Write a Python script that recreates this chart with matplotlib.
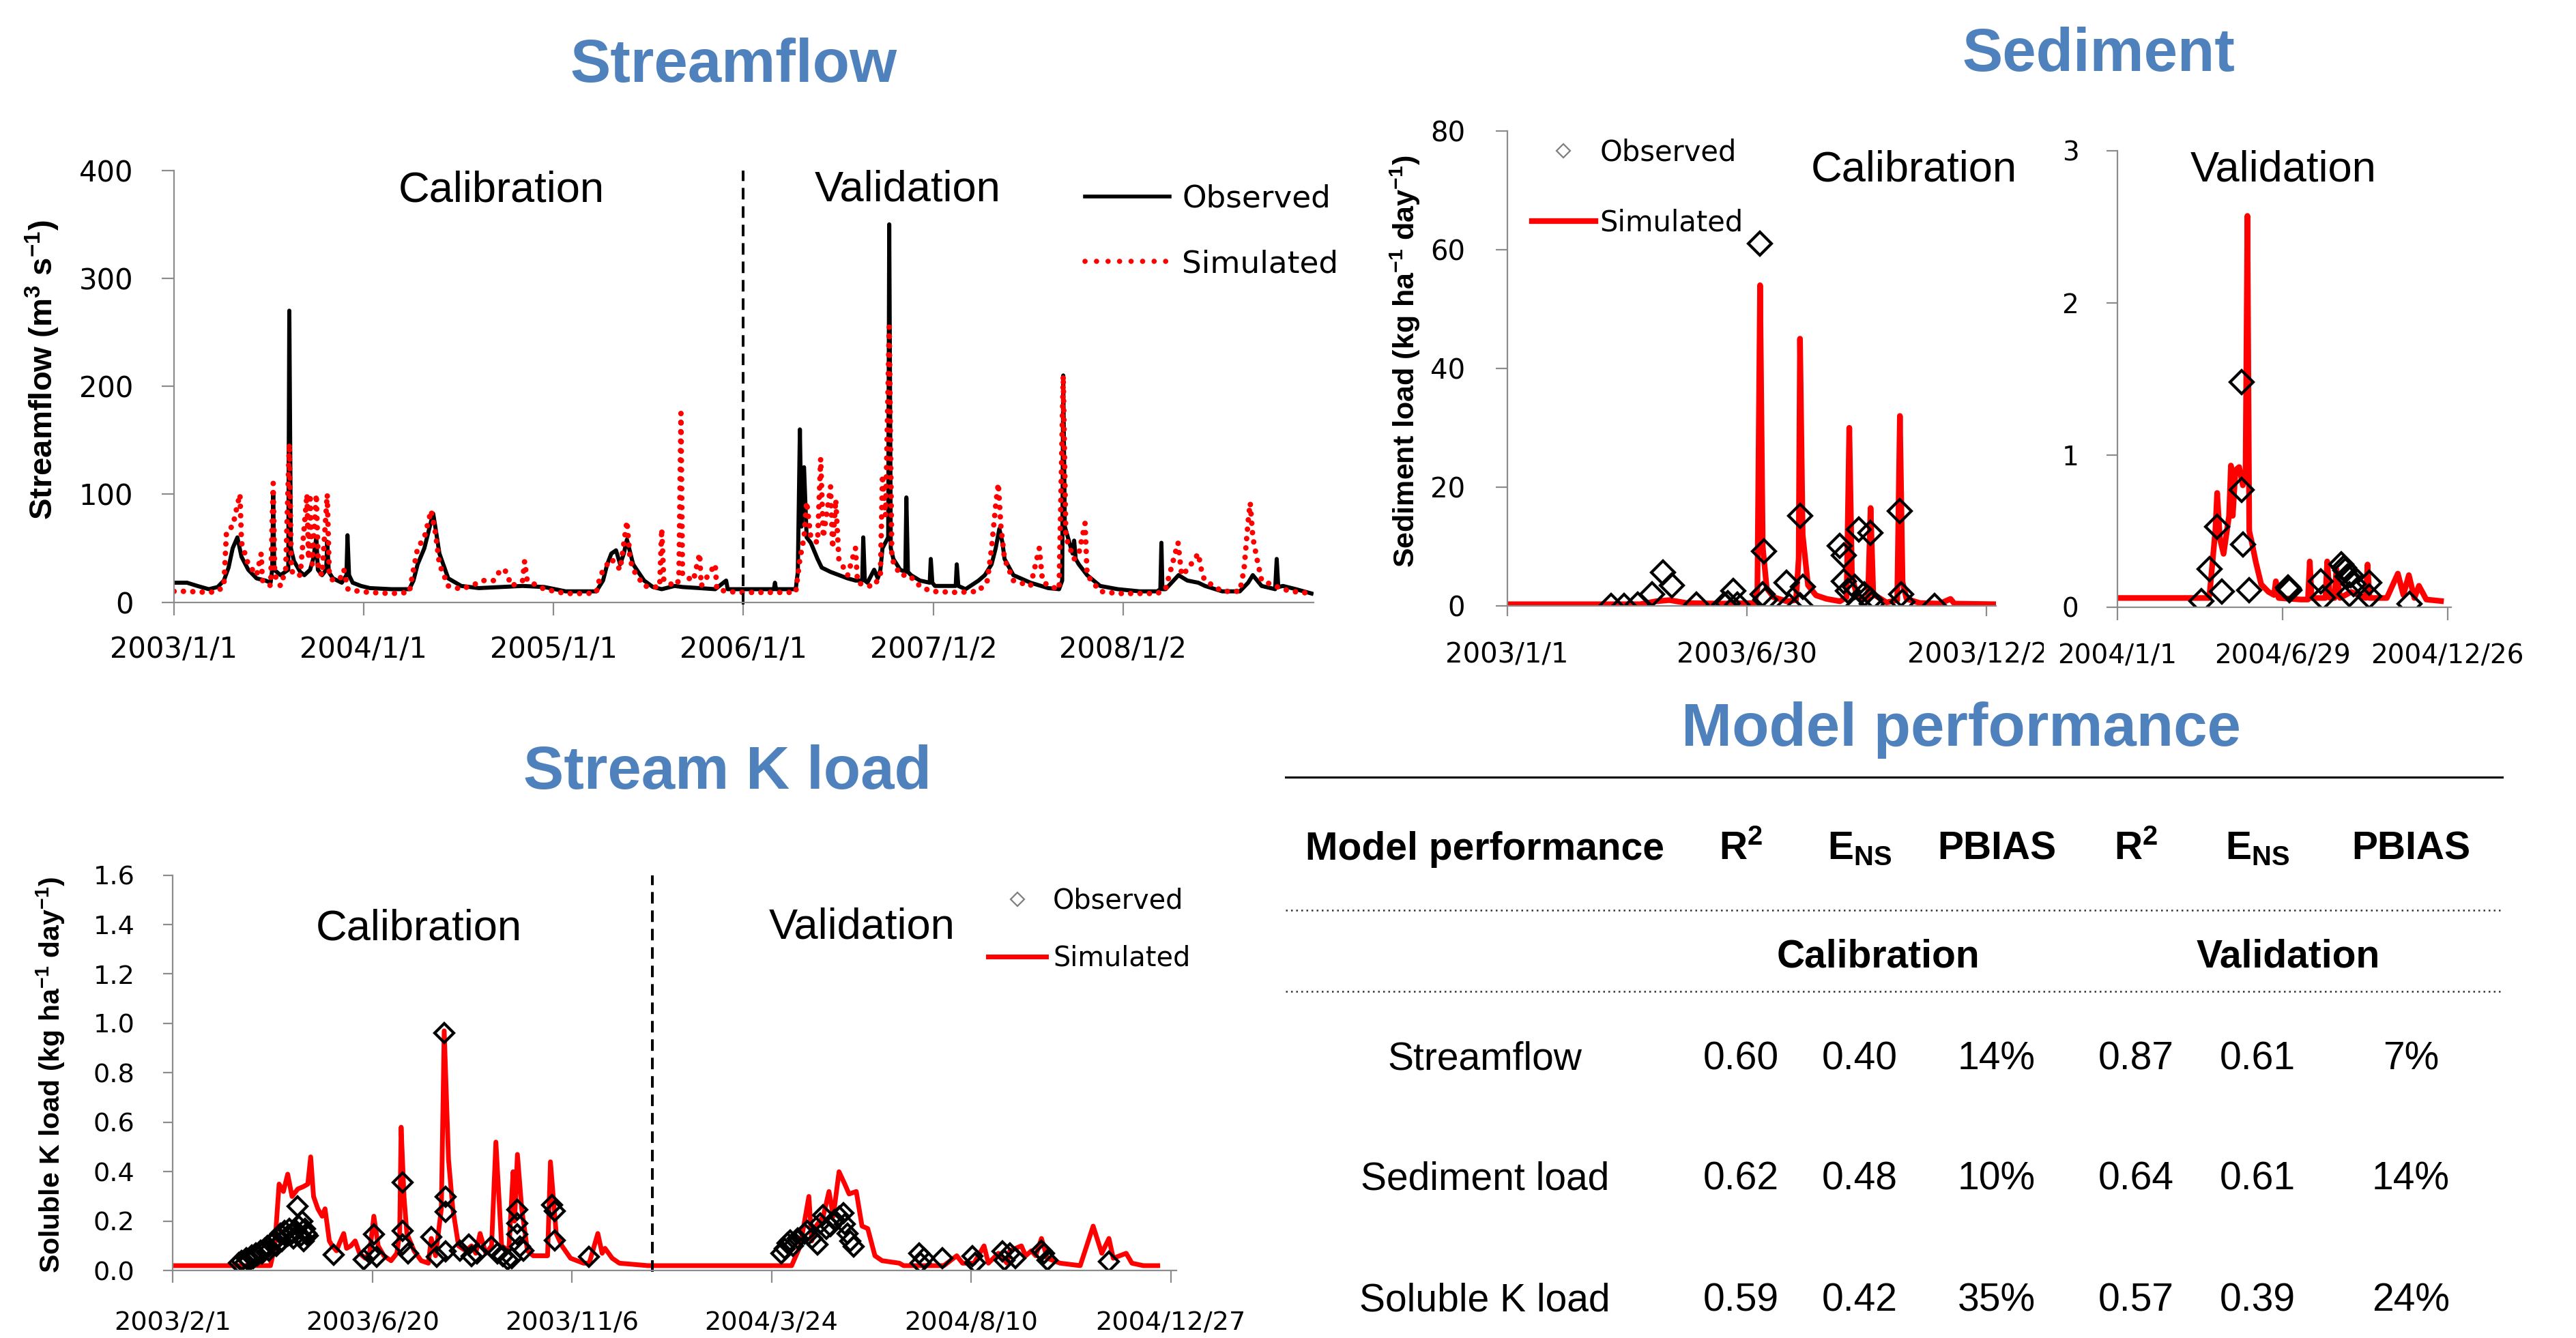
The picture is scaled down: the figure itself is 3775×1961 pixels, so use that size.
import matplotlib
matplotlib.use("Agg")
import matplotlib.pyplot as plt
import numpy as np
from matplotlib.lines import Line2D
from matplotlib.transforms import Bbox, TransformedBbox

W, H = 3775, 1961
TITLE_BLUE = "#4F81BD"
AXIS_GRAY = "#8C8C8C"
ARIAL = "Liberation Sans"

plt.rcParams["font.family"] = "DejaVu Sans"
plt.rcParams["mathtext.fontset"] = "custom"
plt.rcParams["mathtext.rm"] = "Liberation Sans"
plt.rcParams["mathtext.bf"] = "Liberation Sans:bold"
plt.rcParams["mathtext.it"] = "Liberation Sans:italic"

# ---------------- streamflow (days since 2003-01-01, m3/s) ----------------
FLOW_START = "2003-01-01"
FLOW_SPLIT = "2006-01-01"
FLOW_TICK_DATES = ["2003-01-01", "2004-01-01", "2005-01-01", "2006-01-01", "2007-01-02", "2008-01-02"]
FLOW_TICK_LABELS = ["2003/1/1", "2004/1/1", "2005/1/1", "2006/1/1", "2007/1/2", "2008/1/2"]

FLOW_OBS_DAY = [0, 25, 45, 67, 84, 96, 105, 113, 122, 130, 143, 159, 176, 186, 189, 191, 193, 205, 220,
                222, 225, 231, 243, 251, 262, 268, 274, 277, 285, 293, 295, 298, 306, 323, 332, 334, 337,
                344, 360, 377, 419, 453, 461, 469, 482, 495, 499, 503, 511, 528, 553, 587, 629, 671, 713,
                754, 796, 813, 826, 834, 842, 851, 859, 866, 872, 884, 905, 922, 939, 964, 979, 1012, 1042,
                1063, 1066, 1095, 1155, 1157, 1159, 1197, 1201, 1205, 1208, 1213, 1218, 1226, 1239, 1247,
                1264, 1297, 1312, 1325, 1327, 1330, 1335, 1348, 1355, 1360, 1364, 1375, 1377, 1380, 1385,
                1398, 1408, 1410, 1413, 1419, 1436, 1455, 1457, 1460, 1465, 1505, 1507, 1510, 1524, 1549,
                1561, 1574, 1582, 1589, 1595, 1599, 1616, 1649, 1683, 1704, 1710, 1712, 1715, 1721, 1730,
                1733, 1736, 1742, 1758, 1783, 1817, 1859, 1893, 1899, 1901, 1903, 1909, 1934, 1951, 1972,
                1985, 2018, 2052, 2068, 2077, 2094, 2120, 2123, 2126, 2135, 2160, 2190]
FLOW_OBS = [18, 18, 15, 12, 14, 20, 32, 50, 60, 42, 30, 22, 20, 18, 30, 100, 30, 25, 30,
            270, 50, 38, 28, 25, 30, 40, 60, 30, 25, 30, 56, 28, 22, 18, 25, 62, 25,
            18, 15, 13, 12, 12, 20, 35, 50, 75, 82, 70, 45, 22, 15, 13, 14, 15, 14,
            10, 10, 10, 20, 35, 45, 48, 35, 45, 58, 35, 20, 14, 12, 15, 14, 13, 12,
            20, 12, 12, 12, 18, 12, 12, 28, 160, 70, 125, 60, 55, 40, 32,
            28, 22, 20, 20, 60, 20, 18, 30, 22, 30, 50, 60, 350, 50, 40,
            30, 28, 97, 28, 25, 20, 18, 40, 18, 15, 15, 35, 15, 12, 20,
            25, 35, 50, 68, 55, 40, 25, 18, 13, 12, 20, 210, 70, 60, 45,
            57, 40, 35, 25, 15, 12, 10, 10, 12, 55, 12, 12, 25, 20, 18,
            15, 10, 10, 18, 25, 15, 12, 40, 14, 15, 12, 8]

FLOW_SIM_DAY = [0, 25, 67, 84, 96, 101, 105, 113, 122, 127, 130, 143, 159, 168, 170, 176, 186, 191, 194,
                205, 215, 222, 226, 231, 243, 256, 259, 262, 266, 274, 278, 285, 295, 299, 306, 320, 327,
                335, 356, 377, 419, 453, 461, 469, 482, 495, 503, 511, 528, 553, 587, 595, 615, 629, 637,
                650, 671, 675, 680, 713, 754, 796, 813, 821, 834, 842, 851, 859, 872, 878, 884, 905, 922,
                935, 939, 943, 964, 972, 976, 979, 1000, 1012, 1015, 1042, 1045, 1063, 1088, 1197, 1205,
                1213, 1218, 1226, 1239, 1245, 1250, 1264, 1268, 1274, 1280, 1297, 1312, 1316, 1335, 1348,
                1360, 1364, 1370, 1377, 1382, 1398, 1415, 1436, 1457, 1507, 1549, 1566, 1574, 1582, 1587,
                1592, 1599, 1616, 1649, 1666, 1672, 1683, 1704, 1712, 1717, 1733, 1742, 1754, 1758, 1783,
                1817, 1859, 1893, 1909, 1933, 1940, 1951, 1972, 1980, 1985, 2018, 2052, 2060, 2068, 2072,
                2077, 2085, 2094, 2135, 2152, 2190]
FLOW_SIM = [10, 10, 9, 10, 15, 65, 68, 70, 90, 100, 55, 35, 25, 45, 20, 20, 15, 110, 25,
            15, 30, 147, 30, 25, 25, 100, 40, 100, 35, 100, 30, 25, 100, 25, 20, 22, 30,
            12, 10, 9, 8, 9, 30, 50, 60, 85, 65, 35, 15, 12, 18, 20, 20, 30, 30,
            15, 20, 38, 20, 12, 8, 8, 9, 25, 35, 40, 35, 30, 75, 40, 30, 15, 14,
            14, 68, 20, 15, 20, 175, 25, 20, 45, 15, 35, 12, 10, 9, 9, 40,
            60, 93, 60, 55, 133, 60, 107, 50, 95, 40, 25, 50, 18, 15, 15,
            25, 118, 80, 255, 40, 25, 25, 15, 10, 9, 10, 20, 50, 90, 110,
            70, 40, 20, 15, 50, 20, 15, 12, 210, 60, 40, 45, 73, 25, 10,
            8, 8, 8, 12, 55, 25, 30, 45, 25, 20, 10, 10, 30, 75, 92,
            60, 40, 20, 12, 10, 8]

# ---------------- sediment (kg/ha/day) ----------------
SED_CAL_START = "2003-01-01"
SED_CAL_TICK_DATES = ["2003-01-01", "2003-06-30", "2003-12-27"]
SED_CAL_TICK_LABELS = ["2003/1/1", "2003/6/30", "2003/12/27"]
SED_CAL_SIM_DAY = [0, 100, 112, 122, 135, 160, 186, 188, 190, 192, 195, 200, 210, 217, 219, 220, 222, 226,
                   232, 240, 250, 255, 257, 259, 263, 271, 273, 275, 285, 293, 295, 297, 300, 310, 325,
                   333, 336, 367]
SED_CAL_SIM = [0.3, 0.3, 0.8, 1.0, 0.5, 0.4, 0.5, 3, 54, 10, 3, 1.5, 0.8, 1.0, 8, 45, 12, 3.5,
               1.8, 1.2, 0.8, 1.5, 30, 5, 1.5, 1.0, 16.5, 2, 0.6, 1.0, 32, 4, 1.2, 0.5, 0.4,
               1.2, 0.4, 0.3]
SED_CAL_OBS_DAY = [78, 88, 98, 109, 117, 124, 142, 163, 166, 170, 173, 190, 193, 192, 194, 210, 212, 220,
                   220, 222, 250, 253, 253, 256, 261, 264, 264, 273, 268, 273, 274, 295, 296, 297, 321]
SED_CAL_OBS = [0, 0, 0.3, 2, 5.7, 3.5, 0.2, 0.2, 0.5, 2.6, 0.2, 61, 9.2, 2, 1, 3.9, 0, 15.2,
               0.1, 3.2, 10.1, 8.5, 4.2, 2.6, 3.2, 12.9, 0.1, 12.3, 2, 1, 0.4, 16, 2, 0.7, 0]

SED_VAL_START = "2004-01-01"
SED_VAL_TICK_DATES = ["2004-01-01", "2004-06-29", "2004-12-26"]
SED_VAL_TICK_LABELS = ["2004/1/1", "2004/6/29", "2004/12/26"]
SED_VAL_SIM_DAY = [0, 100, 101, 104, 107, 109, 112, 116, 122, 124, 126, 129, 133, 137, 140, 142, 144, 147,
                   151, 157, 165, 171, 173, 176, 200, 208, 210, 212, 227, 229, 232, 237, 239, 243, 255,
                   271, 273, 275, 294, 306, 312, 318, 324, 329, 337, 353]
SED_VAL_SIM = [0.06, 0.06, 0.10, 0.30, 0.5, 0.75, 0.45, 0.35, 0.60, 0.93, 0.60, 0.90, 0.92, 0.80, 0.9, 2.57,
               0.5, 0.42, 0.30, 0.15, 0.10, 0.08, 0.17, 0.06, 0.05, 0.05, 0.30, 0.06, 0.06, 0.30, 0.06,
               0.06, 0.25, 0.06, 0.10, 0.06, 0.28, 0.06, 0.06, 0.22, 0.08, 0.21, 0.06, 0.14, 0.05, 0.04]
SED_VAL_OBS_DAY = [92, 101, 109, 114, 136, 136, 137, 144, 186, 188, 187, 222, 224, 244, 247, 249, 251, 253,
                   255, 258, 275, 275, 319]
SED_VAL_OBS = [0.04, 0.25, 0.53, 0.10, 1.48, 0.77, 0.41, 0.11, 0.13, 0.11, 0.12, 0.17, 0.06, 0.28, 0.26,
               0.24, 0.20, 0.085, 0.21, 0.15, 0.16, 0.07, 0.02]

# ---------------- soluble K load (days since 2003-02-01, kg/ha/day) ----------------
K_START = "2003-02-01"
K_SPLIT = "2004-01-01"
K_TICK_DATES = ["2003-02-01", "2003-06-20", "2003-11-06", "2004-03-24", "2004-08-10", "2004-12-27"]
K_TICK_LABELS = ["2003/2/1", "2003/6/20", "2003/11/6", "2004/3/24", "2004/8/10", "2004/12/27"]
K_SIM_DAY = [0, 68, 71, 74, 77, 80, 83, 87, 91, 94, 96, 98, 101, 104, 106, 109, 111, 114, 116, 119, 121,
             124, 127, 130, 134, 137, 140, 143, 147, 152, 156, 158, 159, 161, 163, 168, 173, 178, 180, 183,
             187, 189, 192, 195, 199, 204, 208, 211, 214, 218, 222, 225, 229, 234, 237, 238, 240, 243, 247,
             251, 257, 261, 263, 267, 271, 277, 286, 290, 292, 296, 299, 301, 306, 311, 331, 431, 437, 443,
             445, 448, 453, 457, 460, 464, 468, 471, 476, 480, 484, 489, 494, 506, 509, 537, 546, 550, 558,
             565, 568, 575, 581, 583, 591, 594, 598, 601, 605, 609, 618, 632, 641, 647, 652, 655, 664, 668,
             676, 686]
K_SIM = [0.02, 0.02, 0.10, 0.35, 0.32, 0.39, 0.30, 0.33, 0.34, 0.35, 0.46, 0.30, 0.25, 0.22, 0.25, 0.12,
         0.10, 0.08, 0.11, 0.15, 0.09, 0.10, 0.12, 0.07, 0.05, 0.07, 0.22, 0.10, 0.06, 0.04, 0.07, 0.15,
         0.58, 0.30, 0.15, 0.08, 0.04, 0.03, 0.13, 0.06, 0.25, 0.97, 0.45, 0.25, 0.10, 0.08, 0.10, 0.07,
         0.15, 0.07, 0.10, 0.52, 0.10, 0.08, 0.40, 0.20, 0.47, 0.25, 0.08, 0.06, 0.06, 0.06, 0.44, 0.15,
         0.10, 0.05, 0.03, 0.03, 0.07, 0.15, 0.07, 0.09, 0.05, 0.03, 0.02, 0.02, 0.10, 0.30, 0.12, 0.18,
         0.22, 0.32, 0.22, 0.40, 0.35, 0.31, 0.32, 0.18, 0.17, 0.06, 0.04, 0.03, 0.02, 0.02, 0.06, 0.03,
         0.03, 0.10, 0.03, 0.07, 0.03, 0.08, 0.10, 0.06, 0.08, 0.06, 0.13, 0.05, 0.03, 0.02, 0.18, 0.07,
         0.13, 0.05, 0.07, 0.03, 0.02, 0.02]
K_OBS_DAY = [46, 48, 50, 51, 53, 55, 56, 58, 59, 61, 62, 64, 66, 67, 69, 70, 72, 73, 75, 76, 78, 80, 81,
             83, 84, 86, 87, 88, 89, 90, 91, 92, 93, 94, 112, 133, 137, 140, 142, 160, 160, 160, 164, 180,
             184, 189, 190, 190, 190, 200, 206, 208, 212, 222, 226, 230, 233, 236, 240, 240, 240, 242, 244,
             264, 266, 266, 290,
             424, 426, 428, 430, 432, 435, 440, 442, 445, 449, 451, 453, 455, 458, 461, 464, 467, 468, 470,
             472, 474, 520, 521, 523, 536, 557, 559, 578, 579, 583, 587, 605, 607, 609, 652]
K_OBS = [0.03, 0.04, 0.03, 0.05, 0.04, 0.06, 0.05, 0.07, 0.06, 0.08, 0.07, 0.09, 0.10, 0.08, 0.11, 0.12,
         0.10, 0.13, 0.15, 0.12, 0.16, 0.14, 0.17, 0.15, 0.13, 0.16, 0.26, 0.18, 0.14, 0.20, 0.12, 0.17,
         0.15, 0.14, 0.064, 0.046, 0.07, 0.146, 0.055, 0.357, 0.16, 0.105, 0.069, 0.137, 0.055, 0.96,
         0.078, 0.30, 0.238, 0.08, 0.105, 0.059, 0.07, 0.096, 0.07, 0.059, 0.046, 0.05, 0.247, 0.192,
         0.146, 0.096, 0.08, 0.265, 0.242, 0.123, 0.055,
         0.069, 0.09, 0.11, 0.123, 0.10, 0.13, 0.15, 0.16, 0.13, 0.105, 0.19, 0.224, 0.169, 0.18, 0.206,
         0.22, 0.233, 0.187, 0.151, 0.12, 0.096, 0.069, 0.032, 0.05, 0.05, 0.059, 0.032, 0.078, 0.041,
         0.07, 0.05, 0.08, 0.069, 0.041, 0.037]

# ---------------- model performance table ----------------
PERF_ROWS = ["Streamflow", "Sediment load", "Soluble K load"]
PERF_HEADER = ["Model performance", r"R$^{\mathbf{2}}$", r"E$_{\mathbf{NS}}$", "PBIAS",
               r"R$^{\mathbf{2}}$", r"E$_{\mathbf{NS}}$", "PBIAS"]
R2_CAL = [0.60, 0.62, 0.59]
ENS_CAL = [0.40, 0.48, 0.42]
PBIAS_CAL = [14, 10, 35]
R2_VAL = [0.87, 0.64, 0.57]
ENS_VAL = [0.61, 0.61, 0.39]
PBIAS_VAL = [7, 14, 24]


def days_since(dates, start):
    return (np.array(dates, dtype="datetime64[D]") - np.datetime64(start)).astype(int)


def px_axes(fig, left, top, right, bottom):
    return fig.add_axes([left / W, 1 - bottom / H, (right - left) / W, (bottom - top) / H])


def style_axes(ax, ylen, xlen, ypad, xpad, size):
    for side in ("top", "right"):
        ax.spines[side].set_visible(False)
    for side in ("left", "bottom"):
        ax.spines[side].set_color(AXIS_GRAY)
        ax.spines[side].set_linewidth(1.6)
    ax.tick_params(axis="y", direction="out", length=ylen * 0.72, width=1.6, color=AXIS_GRAY,
                   pad=ypad, labelsize=size, labelcolor="black")
    ax.tick_params(axis="x", direction="out", length=xlen * 0.72, width=1.6, color=AXIS_GRAY,
                   pad=xpad, labelsize=size, labelcolor="black")
    ax.patch.set_alpha(0)


fig = plt.figure(figsize=(W / 100, H / 100), dpi=100)
overlay = fig.add_axes([0, 0, 1, 1])
overlay.set_xlim(0, W)
overlay.set_ylim(H, 0)
overlay.axis("off")


def label(x, y, s, size, weight="normal", color="black", **kw):
    overlay.text(x, y, s, fontsize=size, fontweight=weight, color=color, family=ARIAL,
                 ha="center", va="baseline", **kw)


def ylabel(x, y, s, size):
    overlay.text(x, y, s, fontsize=size, fontweight="bold", family=ARIAL, rotation=90,
                 ha="center", va="center", rotation_mode="anchor")


def obs_handle():
    return Line2D([], [], ls="none", marker="D", ms=10, mfc="none", mec="#7f7f7f", mew=1.6)


# titles
for text, x, y in [("Streamflow", 1075, 120), ("Sediment", 3075, 104),
                   ("Stream K load", 1066, 1156), ("Model performance", 2874, 1093)]:
    label(x, y, text, 64, weight="bold", color=TITLE_BLUE)

# ---- streamflow panel ----
ax = px_axes(fig, 255, 249.7, 1925, 882.5)
ax.plot(FLOW_OBS_DAY, FLOW_OBS, color="black", lw=4.3, solid_joinstyle="round")
ax.plot(FLOW_SIM_DAY, FLOW_SIM, color="red", lw=5.8, linestyle=(0, (0.01, 1.7)),
        dash_capstyle="round")
ax.axvline(days_since([FLOW_SPLIT], FLOW_START)[0], ymin=-0.006, ymax=1, color="black", lw=2.9,
           dashes=(4.2, 2.5), clip_on=False)
ax.set_xlim(0, 2194)
ax.set_ylim(0, 400)
ax.set_yticks([0, 100, 200, 300, 400])
ax.set_xticks(days_since(FLOW_TICK_DATES, FLOW_START))
ax.set_xticklabels(FLOW_TICK_LABELS)
style_axes(ax, 18, 19, 30, 21, 30)
ax.legend([Line2D([], [], color="black", lw=4),
           Line2D([], [], color="red", lw=5.5, linestyle=(0, (0.01, 2.2)), dash_capstyle="round")],
          ["Observed", "Simulated"], loc="upper left", bbox_to_anchor=(1590, 270),
          bbox_transform=overlay.transData, frameon=False, borderpad=0, borderaxespad=0,
          handlelength=2.74, handletextpad=0.4, labelspacing=1.15, fontsize=32.6)
label(735, 295, "Calibration", 45.5)
label(1330, 294.5, "Validation", 45.5)
ylabel(62, 542, r"Streamflow (m$^{\mathbf{3}}$ s$^{\mathbf{-1}}$)", 34)

# ---- sediment calibration panel ----
ax = px_axes(fig, 2208.5, 191.7, 2924.7, 888.2)
ax.plot(SED_CAL_SIM_DAY, SED_CAL_SIM, color="red", lw=6)
ax.plot(SED_CAL_OBS_DAY, SED_CAL_OBS, ls="none", marker="D", ms=17, mfc="none", mec="black", mew=3)
ax.set_xlim(0, 367)
ax.set_ylim(0, 80)
ax.set_yticks([0, 20, 40, 60, 80])
ax.set_xticks(days_since(SED_CAL_TICK_DATES, SED_CAL_START))
ax.set_xticklabels(SED_CAL_TICK_LABELS)
style_axes(ax, 17, 15, 32, 27, 29)
# the last date label is cut off by the neighbouring panel in the original
clip = TransformedBbox(Bbox([[0, 0], [2995 / W, 1]]), fig.transFigure)
for tick in ax.xaxis.get_major_ticks():
    tick.label1.set_clip_box(clip)
    tick.label1.set_clip_on(True)
ax.legend([obs_handle(), Line2D([], [], color="red", lw=6)], ["Observed", "Simulated"],
          loc="upper left", bbox_to_anchor=(2245, 203), bbox_transform=overlay.transData,
          frameon=False, borderpad=0, borderaxespad=0, handlelength=2.23, handletextpad=0.15,
          labelspacing=1.45, fontsize=30)
label(2805, 265.5, "Calibration", 45.5)
ylabel(2059, 530, r"Sediment load (kg ha$^{\mathbf{-1}}$ day$^{\mathbf{-1}}$)", 31)

# ---- sediment validation panel ----
ax = px_axes(fig, 3102.6, 220.5, 3591.9, 889.8)
ax.plot(SED_VAL_SIM_DAY, SED_VAL_SIM, color="red", lw=6)
ax.plot(SED_VAL_OBS_DAY, SED_VAL_OBS, ls="none", marker="D", ms=17, mfc="none", mec="black", mew=3)
ax.set_xlim(0, 364)
ax.set_ylim(0, 3)
ax.set_yticks([0, 1, 2, 3])
ax.set_xticks(days_since(SED_VAL_TICK_DATES, SED_VAL_START))
ax.set_xticklabels(SED_VAL_TICK_LABELS)
style_axes(ax, 16, 19, 29, 24, 28)
label(3346, 265.5, "Validation", 45.5)

# ---- soluble K load panel ----
ax = px_axes(fig, 253.3, 1282.6, 1724, 1862.2)
ax.plot(K_SIM_DAY, K_SIM, color="red", lw=5)
ax.plot(K_OBS_DAY, K_OBS, ls="none", marker="D", ms=14.5, mfc="none", mec="black", mew=3)
ax.axvline(days_since([K_SPLIT], K_START)[0], ymin=-0.003, ymax=1, color="black", lw=2.9,
           dashes=(4.2, 2.5), clip_on=False)
ax.set_xlim(0, 699)
ax.set_ylim(0, 1.6)
ax.set_yticks(np.arange(0, 1.61, 0.2))
ax.set_yticklabels([f"{v:.1f}" for v in np.arange(0, 1.61, 0.2)])
ax.set_xticks(days_since(K_TICK_DATES, K_START))
ax.set_xticklabels(K_TICK_LABELS)
style_axes(ax, 14, 18, 30, 29.5, 27.5)
ax.legend([obs_handle(), Line2D([], [], color="red", lw=5)], ["Observed", "Simulated"],
          loc="upper left", bbox_to_anchor=(1448, 1301), bbox_transform=overlay.transData,
          frameon=False, borderpad=0, borderaxespad=0, handlelength=2.14, handletextpad=0.25,
          labelspacing=1.1, fontsize=28.6)
label(614, 1377.6, "Calibration", 45.5)
label(1263, 1375.6, "Validation", 45.5)
ylabel(74, 1576, r"Soluble K load (kg ha$^{\mathbf{-1}}$ day$^{\mathbf{-1}}$)", 29.5)

# ---- performance table ----
col_x = [2176, 2551, 2725, 2926, 3130, 3308, 3533]
overlay.plot([1884, 3667], [1139, 1139], color="black", lw=2.2)
for y in (1334, 1453):
    overlay.plot([1884, 3667], [y, y], color="#333333", lw=1.8, linestyle=(0, (1, 2)))
for x, text in zip(col_x, PERF_HEADER):
    label(x, 1259.5, text, 41, weight="bold")
label(2752, 1417.5, "Calibration", 41, weight="bold")
label(3353, 1417.5, "Validation", 41, weight="bold")
for i, name in enumerate(PERF_ROWS):
    y = [1567.5, 1743.5, 1921.5][i]
    cells = [name, f"{R2_CAL[i]:.2f}", f"{ENS_CAL[i]:.2f}", f"{PBIAS_CAL[i]}%",
             f"{R2_VAL[i]:.2f}", f"{ENS_VAL[i]:.2f}", f"{PBIAS_VAL[i]}%"]
    for x, text in zip(col_x, cells):
        label(x, y, text, 41)

fig.savefig("out.png", dpi=100)
